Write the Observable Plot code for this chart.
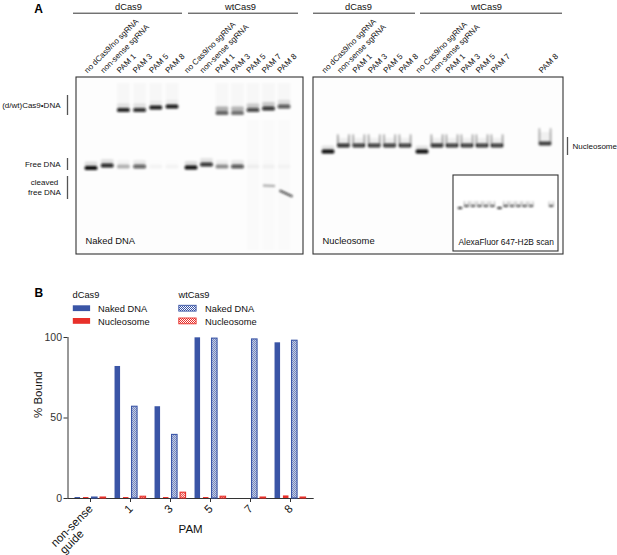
<!DOCTYPE html>
<html><head><meta charset="utf-8">
<script src="https://cdn.jsdelivr.net/npm/d3@7"></script>
<script src="https://cdn.jsdelivr.net/npm/@observablehq/plot@0.6"></script>
<style>
body{margin:0;background:#fff;font-family:"Liberation Sans",Arial,sans-serif;}
#page{position:relative;width:617px;height:555px;overflow:hidden;background:#fff;}
</style></head><body>
<div id="page">
<svg width="0" height="0" style="position:absolute;left:0;top:0">
<defs>
<pattern id="chkBlue" width="2" height="2" patternUnits="userSpaceOnUse">
<rect width="2" height="2" fill="#ffffff"/><rect width="1" height="1" fill="#3a55a6"/><rect x="1" y="1" width="1" height="1" fill="#3a55a6"/>
</pattern>
<pattern id="chkRed" width="2" height="2" patternUnits="userSpaceOnUse">
<rect width="2" height="2" fill="#ffffff"/><rect width="1" height="1" fill="#e8302a"/><rect x="1" y="1" width="1" height="1" fill="#e8302a"/>
</pattern>
<filter id="gelBlur" x="-30%" y="-80%" width="160%" height="260%"><feGaussianBlur stdDeviation="0.9"/></filter>
</defs></svg>
<div id="panelA" style="position:absolute;left:0;top:0"></div>
<div id="legend" style="position:absolute;left:0;top:280px"></div>
<div id="panelB" style="position:absolute;left:0;top:330px"></div>
</div>
<script>
// ---------------- DATA ----------------
// Panel B: % bound per PAM
const groups = ["non-sense guide", "1", "3", "5", "7", "8"];
const dCas9Naked = [0.6, 82, 57, 99.8, null, 96.7];
const dCas9Nucleosome = [0.6, 0.6, 0.6, 0.6, null, 1.6];
const wtCas9Naked = [0.6, 57, 39.5, 99.3, 98.8, 98];
const wtCas9Nucleosome = [0.6, 1.1, 3.6, 1.1, 0.6, 0.6];
const yTicks = [0, 50, 100];

// Panel A: gel lanes and band intensities (0..1)
const laneLabels = ["no dCas9/no sgRNA", "non-sense sgRNA", "PAM 1", "PAM 3", "PAM 5", "PAM 8",
                    "no Cas9/no sgRNA", "non-sense sgRNA", "PAM 1", "PAM 3", "PAM 5", "PAM 7", "PAM 8"];
const nakedBound = [0, 0, 0.9, 0.85, 0.95, 0.95, 0, 0, 0.6, 0.55, 0.75, 0.85, 0.7];
const nakedBoundUpper = [0, 0, 0.1, 0.1, 0.06, 0.06, 0, 0, 0.3, 0.28, 0.2, 0.2, 0.12];
const nakedFree = [1, 0.9, 0.3, 0.65, 0.04, 0.04, 1, 0.85, 0.45, 0.7, 0.05, 0.04, 0.03];
const nakedCleaved = [0, 0, 0, 0, 0, 0, 0, 0, 0, 0, 0, 0.35, 0.75];
const nucleosomeBand = [1, 0.85, 0.8, 0.8, 0.8, 0.8, 1, 0.85, 0.8, 0.8, 0.8, 0.8, 0.75];
const headerLabels = ["dCas9", "wtCas9", "dCas9", "wtCas9"];

// ---------------- STYLE / LAYOUT ----------------
const FONT = '"Liberation Sans", Arial, sans-serif';
const BLUE = "#3a55a6", RED = "#e8302a", INK = "#222";

const laneXL = i => i < 6 ? 91 + 16.2 * i : 191 + 15.5 * (i - 6);
const laneXR = i => i < 6 ? 328 + 15.4 * i : (i < 12 ? 422 + 15 * (i - 6) : 545);
const insetX = i => 460 + (laneXR(i) - 328) * 0.42;
const boundRow = [0, 0, 110, 110, 107.5, 106.5, 0, 0, 113, 113, 110, 108.5, 106.5];
const freeRow = [168, 165.5, 166.5, 166.5, 166.5, 166.5, 167.5, 164.5, 166.5, 166.5, 166.5, 166.5, 166.5];

// build band geometry
const bands = [], smears = [];
laneLabels.forEach((lab, i) => {
  const x = laneXL(i), hw = 6.4;
  if (nakedBound[i] > 0) {
    bands.push({x1: x - hw, x2: x + hw, y1: boundRow[i] - 2, y2: boundRow[i] + 2, o: nakedBound[i]});
    bands.push({x1: x - hw, x2: x + hw, y1: boundRow[i] - 6.5, y2: boundRow[i] - 2, o: nakedBoundUpper[i]});
    smears.push({x1: x - hw, x2: x + hw, y1: 83, y2: boundRow[i] - 5, o: 0.025});
  }
  if (nakedFree[i] > 0) {
    bands.push({x1: x - hw, x2: x + hw, y1: freeRow[i] - 2, y2: freeRow[i] + 2, o: nakedFree[i]});
    bands.push({x1: x - hw, x2: x + hw, y1: freeRow[i] - 6.5, y2: freeRow[i] - 2, o: nakedFree[i] * 0.12});
  }
  if (i >= 10) smears.push({x1: x - hw, x2: x + hw, y1: 120, y2: 250, o: 0.012});
  // nucleosome gel
  const xr = laneXR(i);
  const flat = (i === 0 || i === 6);
  const bot = flat ? 151.5 : (i === 12 ? 143.5 : 145.5);
  const top = i === 12 ? 128 : 134;
  const v = nucleosomeBand[i];
  bands.push({x1: xr - hw, x2: xr + hw, y1: bot - 2, y2: bot + 2, o: v});
  if (!flat) {
    bands.push({x1: xr - hw, x2: xr - hw + 1.6, y1: top, y2: bot, o: v * 0.45});
    bands.push({x1: xr + hw - 1.6, x2: xr + hw, y1: top, y2: bot, o: v * 0.45});
    bands.push({x1: xr - hw, x2: xr + hw, y1: top + 4, y2: bot, o: v * 0.07});
  } else {
    bands.push({x1: xr - hw, x2: xr + hw, y1: bot - 6, y2: bot - 2, o: v * 0.1});
  }
  // inset (fluorescence scan)
  const xi = insetX(i), ihw = 2.4;
  const ib = flat ? 208 : 206, it = 201;
  bands.push({x1: xi - ihw, x2: xi + ihw, y1: ib - 1, y2: ib + 1, o: v * 0.95});
  if (!flat) {
    bands.push({x1: xi - ihw, x2: xi - ihw + 0.9, y1: it, y2: ib, o: v * 0.5});
    bands.push({x1: xi + ihw - 0.9, x2: xi + ihw, y1: it, y2: ib, o: v * 0.5});
  }
});
const cleavedBands = [];
nakedCleaved.forEach((c, i) => {
  if (c <= 0) return;
  const x = laneXL(i);
  if (i === 11) cleavedBands.push({x1: x - 6, y1: 185, x2: x + 6, y2: 185.5, o: c});
  else cleavedBands.push({x1: x - 5, y1: 190, x2: x + 8, y2: 196, o: c});
});

const frames = [
  {x1: 76, x2: 303, y1: 77, y2: 254},
  {x1: 313, x2: 563, y1: 77, y2: 254},
  {x1: 453, x2: 558, y1: 175, y2: 251}
];
const headerPos = [
  {x: 128, x1: 73, x2: 182}, {x: 240, x1: 188, x2: 298},
  {x: 358, x1: 313, x2: 415}, {x: 486, x1: 420, x2: 562}
];
const laneTexts = [];
laneLabels.forEach((t, i) => {
  laneTexts.push({x: laneXL(i) - 4, y: 73, t});
  laneTexts.push({x: laneXR(i) - 3.5, y: 73, t});
});

// ---------------- PANEL A ----------------
const A = Plot.plot({
  width: 617, height: 262, margin: 0,
  x: {type: "identity", axis: null},
  y: {type: "identity", axis: null},
  style: {fontFamily: FONT, color: INK, background: "transparent", overflow: "visible"},
  marks: [
    Plot.rect(frames.slice(0, 2), {x1: "x1", x2: "x2", y1: "y1", y2: "y2", fill: "#fdfdfd", stroke: "#333", strokeWidth: 1.1}),
    Plot.rect(smears, {x1: "x1", x2: "x2", y1: "y1", y2: "y2", fill: "#000", fillOpacity: "o"}),
    Plot.rect(frames.slice(2), {x1: "x1", x2: "x2", y1: "y1", y2: "y2", fill: "#fff", stroke: "#333", strokeWidth: 1.1}),
    Plot.rect(bands, {x1: "x1", x2: "x2", y1: "y1", y2: "y2", fill: "#0a0a0a", fillOpacity: "o", rx: 1.5}),
    Plot.link(cleavedBands, {x1: "x1", y1: "y1", x2: "x2", y2: "y2", stroke: "#111", strokeOpacity: "o", strokeWidth: 2}),
    // headers
    Plot.ruleY(headerPos, {y: () => 12.7, x1: "x1", x2: "x2", stroke: "#333", strokeWidth: 1}),
    Plot.text(headerPos, {x: "x", y: () => 7, text: (d, i) => headerLabels[i], fontSize: 9.3, fill: "#111"}),
    Plot.text(["A"], {x: () => 38, y: () => 9, text: d => d, fontSize: 12, fontWeight: "bold", fill: "#000"}),
    // lane labels
    Plot.text(laneTexts, {x: "x", y: "y", text: "t", rotate: -45, textAnchor: "start", lineAnchor: "bottom", fontSize: 8, fill: "#111"}),
    // side labels
    Plot.ruleX([{x: 67, y1: 95, y2: 115}, {x: 67, y1: 158, y2: 170}, {x: 67, y1: 176, y2: 199}, {x: 567, y1: 137, y2: 155}],
      {x: "x", y1: "y1", y2: "y2", stroke: "#555", strokeWidth: 1.3}),
    Plot.text([{x: 60, y: 105, t: "(d/wt)Cas9•DNA"}, {x: 60, y: 163.5, t: "Free DNA"}],
      {x: "x", y: "y", text: "t", textAnchor: "end", fontSize: 8, fill: "#111"}),
    Plot.text([{x: 44, y: 186, t: "cleaved\nfree DNA"}], {x: "x", y: "y", text: "t", textAnchor: "middle", lineHeight: 1.25, fontSize: 8, fill: "#111"}),
    Plot.text([{x: 572, y: 146, t: "Nucleosome"}], {x: "x", y: "y", text: "t", textAnchor: "start", fontSize: 8, fill: "#111"}),
    Plot.text([{x: 85, y: 240.5, t: "Naked DNA"}, {x: 322, y: 240.5, t: "Nucleosome"}],
      {x: "x", y: "y", text: "t", textAnchor: "start", fontSize: 9.4, fill: "#111"}),
    Plot.text([{x: 458, y: 242, t: "AlexaFluor 647-H2B scan"}], {x: "x", y: "y", text: "t", textAnchor: "start", fontSize: 8.4, fill: "#111"})
  ]
});
{
  const rectGroups = A.querySelectorAll('g[aria-label="rect"]');
  if (rectGroups[1]) rectGroups[1].setAttribute("filter", "url(#gelBlur)");
  if (rectGroups[3]) rectGroups[3].setAttribute("filter", "url(#gelBlur)");
  A.querySelectorAll('g[aria-label="link"]').forEach(g => g.setAttribute("filter", "url(#gelBlur)"));
}
document.getElementById("panelA").appendChild(A);

// ---------------- LEGEND ----------------
const leg = d3.create("svg").attr("width", 300).attr("height", 50)
  .style("font-family", FONT).style("overflow", "visible");
leg.append("text").attr("x", 34.5).attr("y", 16.7).attr("font-size", 12).attr("font-weight", "bold").text("B");
const legendCols = [
  {title: "dCas9", x: 72.5, tx: 98, items: [{label: "Naked DNA", fill: BLUE, stroke: "none"}, {label: "Nucleosome", fill: RED, stroke: "none"}]},
  {title: "wtCas9", x: 178.5, tx: 205, items: [{label: "Naked DNA", fill: "url(#chkBlue)", stroke: BLUE}, {label: "Nucleosome", fill: "url(#chkRed)", stroke: RED}]}
];
legendCols.forEach(c => {
  leg.append("text").attr("x", c.x).attr("y", 18.3).attr("font-size", 9.3).attr("fill", "#111").text(c.title);
  c.items.forEach((it, j) => {
    const y0 = 25.3 + j * 12.7;
    leg.append("rect").attr("x", c.x + 0.3).attr("y", y0).attr("width", 17.3).attr("height", 5.8)
      .attr("fill", it.fill).attr("stroke", it.stroke).attr("stroke-width", 0.9);
    leg.append("text").attr("x", c.tx).attr("y", y0 + 6.8).attr("font-size", 9.3).attr("fill", "#111").text(it.label);
  });
});
document.getElementById("legend").appendChild(leg.node());

// ---------------- PANEL B ----------------
const series = vals => groups.map((g, i) => ({g, v: vals[i]})).filter(d => d.v != null);
const bandW = (312.7 - 67.5) / groups.length;
const barW = 6.4;
const ins = (bandW - barW) / 2;
const B = Plot.plot({
  width: 617, height: 225,
  marginTop: 7, marginBottom: 57, marginLeft: 67.5, marginRight: 617 - 312.7,
  style: {fontFamily: FONT, fontSize: "10.5px", color: "#333", background: "transparent", overflow: "visible"},
  x: {domain: groups, padding: 0, tickSize: 4, tickFormat: () => "", line: true, label: null},
  y: {domain: [0, 100], ticks: yTicks, tickSize: 4, tickPadding: 2, line: true, label: null},
  marks: [
    Plot.barY(series(dCas9Naked), {x: "g", y: "v", fill: BLUE, insetLeft: ins, insetRight: ins, dx: -12.7}),
    Plot.barY(series(dCas9Nucleosome), {x: "g", y: "v", fill: RED, insetLeft: ins, insetRight: ins, dx: -4.3}),
    Plot.barY(series(wtCas9Naked), {x: "g", y: "v", fill: "url(#chkBlue)", stroke: BLUE, strokeWidth: 1.1, insetLeft: ins, insetRight: ins, dx: 4.3}),
    Plot.barY(series(wtCas9Nucleosome), {x: "g", y: "v", fill: "url(#chkRed)", stroke: RED, strokeWidth: 1.1, insetLeft: ins, insetRight: ins, dx: 12.8}),
    Plot.text(groups, {x: d => d, frameAnchor: "bottom", text: d => d === "non-sense guide" ? "non-sense" : d,
      rotate: -45, textAnchor: "end", dx: 3, dy: 11, fontSize: 11.5, fill: "#111"}),
    Plot.text(groups.filter(d => d === "non-sense guide"), {x: d => d, frameAnchor: "bottom", text: () => "guide",
      rotate: -45, textAnchor: "end", dx: -6, dy: 36, fontSize: 11.5, fill: "#111"}),
    Plot.text(["% Bound"], {frameAnchor: "left", text: d => d, rotate: -90, dx: -29.5, fontSize: 11.5, fill: "#111"}),
    Plot.text(["PAM"], {frameAnchor: "bottom", text: d => d, dy: 34, fontSize: 11.5, fill: "#111"})
  ]
});
document.getElementById("panelB").appendChild(B);
</script>
</body></html>
